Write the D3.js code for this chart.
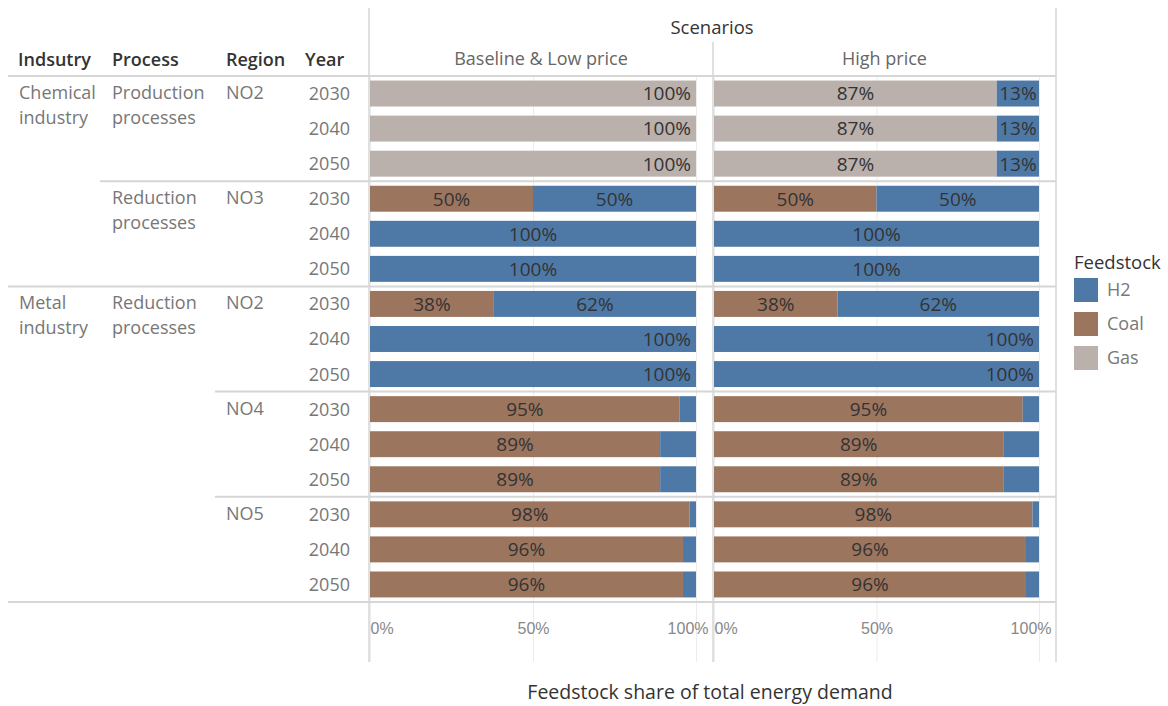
<!DOCTYPE html>
<html>
<head>
<meta charset="utf-8">
<script src="https://cdn.jsdelivr.net/npm/d3@7"></script>
<style>
  body { margin: 0; background: #fff; }
  svg { font-family: "Open Sans", sans-serif; }
  .grid line { stroke: #ececec; }
  .grid path { display: none; }
  .tick text { fill: #888; font-size: 16px; }
</style>
</head>
<body>
<svg width="1168" height="706"></svg>
<script>
// ---- data ----
var groupIndustry = ["Chemical|industry", "", "Metal|industry", "", ""];
var groupProcess = ["Production|processes", "Reduction|processes", "Reduction|processes", "", ""];
var groupRegion = ["NO2", "NO3", "NO2", "NO4", "NO5"];
var years = ["2030", "2040", "2050"];
var scenarios = ["Baseline & Low price", "High price"];
var feedstocks = ["H2", "Coal", "Gas"];
var colors = ["#4e79a7", "#9c755f", "#bab0ac"];
var tickValues = [0, 0.5, 1];

// shares per row (5 regions x 3 years), one array per feedstock and scenario
var coalBase = [0, 0, 0, 0.50, 0, 0, 0.38, 0, 0, 0.95, 0.89, 0.89, 0.98, 0.96, 0.96];
var gasBase  = [1, 1, 1, 0, 0, 0, 0, 0, 0, 0, 0, 0, 0, 0, 0];
var h2Base   = [0, 0, 0, 0.50, 1, 1, 0.62, 1, 1, 0.05, 0.11, 0.11, 0.02, 0.04, 0.04];
var coalHigh = [0, 0, 0, 0.50, 0, 0, 0.38, 0, 0, 0.95, 0.89, 0.89, 0.98, 0.96, 0.96];
var gasHigh  = [0.87, 0.87, 0.87, 0, 0, 0, 0, 0, 0, 0, 0, 0, 0, 0, 0];
var h2High   = [0.13, 0.13, 0.13, 0.50, 1, 1, 0.62, 1, 1, 0.05, 0.11, 0.11, 0.02, 0.04, 0.04];

var svg = d3.select("svg");
var top0 = 76, bottom0 = 602;
var nRows = groupRegion.length * years.length;

var y = d3.scaleBand()
    .domain(d3.range(nRows))
    .range([top0, bottom0])
    .paddingInner(0.26)
    .paddingOuter(0.13);

var panes = [
    { x0: 369, x1: 713, x: d3.scaleLinear().domain([0, 1]).range([370, 696]), coal: coalBase, gas: gasBase, h2: h2Base, endLabels: [0, 1, 2, 7, 8] },
    { x0: 713, x1: 1056, x: d3.scaleLinear().domain([0, 1]).range([714, 1039]), coal: coalHigh, gas: gasHigh, h2: h2High, endLabels: [7, 8] }
];

var lineCol = "#d6d6d6";

// gridlines + bars
panes.forEach(function (p, pi) {
    svg.append("g")
        .attr("class", "grid")
        .attr("transform", "translate(0," + bottom0 + ")")
        .call(d3.axisBottom(p.x).tickValues(tickValues).tickSize(-(bottom0 - top0)).tickFormat(""))
        .call(function (g) { g.selectAll("line").attr("y2", -(bottom0 - top0)).attr("y1", 60); });

    // stacked rows: Coal, Gas, H2 from left to right
    var rows = d3.range(nRows).map(function (i) {
        var segs = [], acc = 0;
        [["Coal", p.coal[i]], ["Gas", p.gas[i]], ["H2", p.h2[i]]].forEach(function (s) {
            if (s[1] > 0) segs.push({ row: i, key: s[0], v0: acc, v1: acc + s[1], v: s[1] });
            acc += s[1];
        });
        return segs;
    });
    var segs = d3.merge(rows);

    var g = svg.append("g");
    g.selectAll("rect")
        .data(segs)
        .join("rect")
        .attr("x", function (d) { return p.x(d.v0); })
        .attr("width", function (d) { return p.x(d.v1) - p.x(d.v0); })
        .attr("y", function (d) { return y(d.row); })
        .attr("height", y.bandwidth())
        .attr("fill", function (d) { return colors[feedstocks.indexOf(d.key)]; });

    g.selectAll("text")
        .data(segs.filter(function (d) { return d.v >= 0.12; }))
        .join("text")
        .attr("x", function (d) {
            if (p.endLabels.indexOf(d.row) >= 0) return p.x(d.v1) - 5;
            return (p.x(d.v0) + p.x(d.v1)) / 2;
        })
        .attr("y", function (d) { return y(d.row) + y.bandwidth() / 2; })
        .attr("dy", "0.36em")
        .attr("text-anchor", function (d) { return p.endLabels.indexOf(d.row) >= 0 ? "end" : "middle"; })
        .attr("fill", "#333")
        .attr("font-size", 19)
        .text(function (d) { return d3.format(".0%")(d.v); });

    // x axis labels
    var ax = svg.append("g")
        .attr("transform", "translate(0," + 628 + ")")
        .call(d3.axisBottom(p.x).tickValues(tickValues).tickSize(0).tickFormat(d3.format(".0%")));
    ax.select(".domain").remove();
    ax.selectAll(".tick text")
        .attr("dy", "0.36em")
        .attr("y", 0)
        .attr("text-anchor", function (d) { return d === 0 ? "start" : d === 1 ? "end" : "middle"; })
        .attr("dx", function (d) { return d === 1 ? 12 : 0; });

    svg.append("text")
        .attr("x", (p.x0 + p.x1) / 2)
        .attr("y", 59)
        .attr("dy", "0.36em")
        .attr("text-anchor", "middle")
        .attr("fill", "#666")
        .attr("font-size", 18)
        .text(scenarios[pi]);
});

// separators
function sepY(i) { return y(i) - (y.step() - y.bandwidth()) / 2; }
var seps = [
    { x: 8, y: top0 },
    { x: 100, y: sepY(3) },
    { x: 8, y: sepY(6) },
    { x: 215, y: sepY(9) },
    { x: 215, y: sepY(12) },
    { x: 8, y: bottom0 }
];
svg.selectAll(".sep")
    .data(seps)
    .join("line")
    .attr("class", "sep")
    .attr("x1", function (d) { return d.x; })
    .attr("x2", 1056)
    .attr("y1", function (d) { return d.y; })
    .attr("y2", function (d) { return d.y; })
    .attr("stroke", lineCol)
    .attr("stroke-width", 2);

[[369, 8], [713, 42], [1056, 8]].forEach(function (v) {
    svg.append("line")
        .attr("x1", v[0]).attr("x2", v[0])
        .attr("y1", v[1]).attr("y2", 662)
        .attr("stroke", lineCol)
        .attr("stroke-width", 1.5);
});

// header
svg.append("text")
    .attr("x", 712).attr("y", 27).attr("dy", "0.36em")
    .attr("text-anchor", "middle").attr("fill", "#333").attr("font-size", 18.5)
    .text("Scenarios");

var headers = [["Indsutry", 18], ["Process", 112], ["Region", 226], ["Year", 305]];
svg.selectAll(".hdr")
    .data(headers)
    .join("text")
    .attr("class", "hdr")
    .attr("x", function (d) { return d[1]; })
    .attr("y", 60).attr("dy", "0.36em")
    .attr("fill", "#333")
    .attr("font-size", 18)
    .attr("font-weight", 600)
    .text(function (d) { return d[0]; });

// row labels, top-aligned in the first row of each group
function multiline(txt, x, y0) {
    var t = svg.append("text").attr("y", y0)
        .attr("fill", "#777").attr("font-size", 18);
    txt.split("|").forEach(function (s, i) {
        t.append("tspan").attr("x", x).attr("dy", i === 0 ? "0.36em" : 25).text(s);
    });
}
groupRegion.forEach(function (r, gi) {
    var y0 = y(gi * 3) + y.bandwidth() / 2 - 1;
    if (groupIndustry[gi]) multiline(groupIndustry[gi], 19, y0);
    if (groupProcess[gi]) multiline(groupProcess[gi], 112, y0);
    multiline(r, 226, y0);
});

svg.selectAll(".yr")
    .data(d3.range(nRows))
    .join("text")
    .attr("class", "yr")
    .attr("x", 350)
    .attr("y", function (i) { return y(i) + y.bandwidth() / 2; })
    .attr("dy", "0.36em")
    .attr("text-anchor", "end")
    .attr("fill", "#777")
    .attr("font-size", 18)
    .text(function (i) { return years[i % 3]; });

// axis title
svg.append("text")
    .attr("x", 710).attr("y", 692).attr("dy", "0.36em")
    .attr("text-anchor", "middle").attr("fill", "#333").attr("font-size", 19.5)
    .text("Feedstock share of total energy demand");

// legend
var legend = svg.append("g").attr("transform", "translate(1074,262)");
legend.append("text").attr("dy", "0.36em").attr("fill", "#333").attr("font-size", 18.5).text("Feedstock");
feedstocks.forEach(function (f, i) {
    legend.append("rect").attr("x", 0).attr("y", 16 + i * 34).attr("width", 24).attr("height", 24).attr("fill", colors[i]);
    legend.append("text").attr("x", 33).attr("y", 28 + i * 34).attr("dy", "0.36em")
        .attr("fill", "#777").attr("font-size", 18).text(f);
});
</script>
</body>
</html>
